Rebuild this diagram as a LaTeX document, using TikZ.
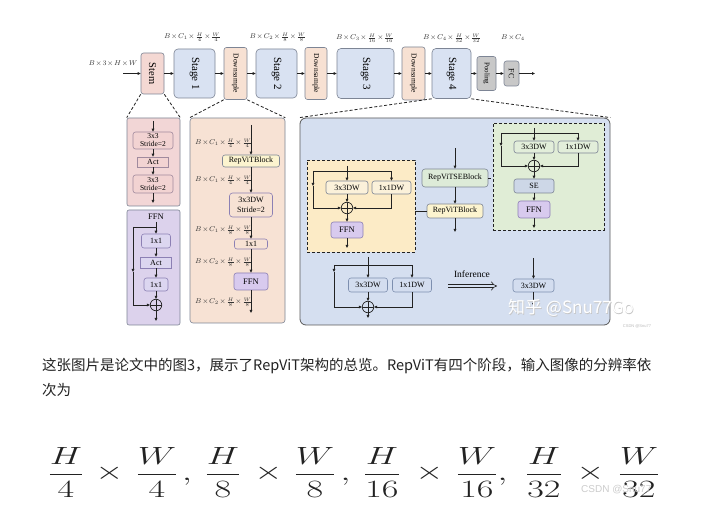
\documentclass[tikz,border=0pt]{standalone}
\usepackage{fontspec}
\usepackage{graphicx}
\setmainfont{Liberation Serif}
\newfontfamily\cjk{Noto Sans CJK SC}
\newfontfamily\sansf{Liberation Sans}
\usetikzlibrary{arrows.meta,calc}
\definecolor{stemc}{HTML}{F4D8D3}
\definecolor{stagec}{HTML}{D9E2F2}
\definecolor{dsc}{HTML}{F7E1D3}
\definecolor{poolc}{HTML}{C8C8C8}
\definecolor{bordc}{HTML}{7D8595}
\definecolor{pinkbg}{HTML}{F2D6D6}
\definecolor{pinkin}{HTML}{F2D3D2}
\definecolor{pinkbd}{HTML}{A08A9E}
\definecolor{lavbg}{HTML}{DCD2EC}
\definecolor{lavin}{HTML}{DCD6F0}
\definecolor{lavbd}{HTML}{8C80B4}
\definecolor{peachbg}{HTML}{F7E2D4}
\definecolor{bluebg}{HTML}{D5DFF0}
\definecolor{yelbg}{HTML}{FCEBC6}
\definecolor{yelin}{HTML}{FBF1DA}
\definecolor{grnbg}{HTML}{E0EDD6}
\definecolor{grnin}{HTML}{E2EEDA}
\definecolor{ffnc}{HTML}{D8CAEE}
\definecolor{rvbc}{HTML}{FCF4CF}
\definecolor{rvsec}{HTML}{DDEBD8}
\definecolor{sec}{HTML}{CDD7E7}
\definecolor{bluin}{HTML}{D3DDEF}
\definecolor{blubd}{HTML}{7D8FAF}
\definecolor{linec}{HTML}{222222}
\newcommand{\wfr}[1]{\scalebox{1.45}[1]{$\displaystyle #1$}}
\newcommand{\tx}{\mskip1.5mu{\times}\mskip1.5mu}
\begin{document}
\begin{tikzpicture}[x=1pt,y=-1pt,
  blk/.style={draw=bordc, line width=0.6pt, rounded corners=2.5pt, inner sep=0pt, align=center, font=\fontsize{8}{8.5}\selectfont},
  arr/.style={-{Triangle[length=3pt,width=2.6pt]}, line width=0.7pt, draw=linec},
  ln/.style={line width=0.7pt, draw=linec},
  dsh/.style={dashed, line width=0.8pt, dash pattern=on 3pt off 2pt, draw=linec},
  lbl/.style={font=\fontsize{7}{8}\selectfont, inner sep=0pt, text=black!80},
  opl/.style={circle, draw=linec, line width=0.7pt, minimum size=11.5pt, inner sep=0pt,
    path picture={\draw[line width=0.6pt,linec] (path picture bounding box.north) -- (path picture bounding box.south) (path picture bounding box.west) -- (path picture bounding box.east);}},
  fr/.style={font=\fontsize{24.88}{30}\selectfont, inner sep=0pt, text=linec}
]
\useasboundingbox (0,0) rectangle (701,510);
\fill[white] (0,0) rectangle (701,510);

% ---------- top row ----------
\coordinate (inp) at (123,73.5);
\node[blk, fill=stemc, minimum width=23pt, minimum height=41pt, font=\fontsize{10.5}{11}\selectfont] (stem) at (152.5,73.5) {\rotatebox{-90}{Stem}};
\node[blk, fill=stagec, minimum width=41pt, minimum height=49pt, rounded corners=4pt, font=\fontsize{11}{12}\selectfont] (st1) at (194.5,73.5) {\rotatebox{-90}{Stage 1}};
\node[blk, fill=dsc, minimum width=23pt, minimum height=52pt, font=\fontsize{7.5}{8}\selectfont] (ds1) at (235.5,73.5) {\rotatebox{-90}{Downsample}};
\node[blk, fill=stagec, minimum width=41pt, minimum height=49pt, rounded corners=4pt, font=\fontsize{11}{12}\selectfont] (st2) at (276.5,73.5) {\rotatebox{-90}{Stage 2}};
\node[blk, fill=dsc, minimum width=22pt, minimum height=52pt, font=\fontsize{7.5}{8}\selectfont] (ds2) at (316,73.5) {\rotatebox{-90}{Downsample}};
\node[blk, fill=stagec, minimum width=57pt, minimum height=50pt, rounded corners=4pt, font=\fontsize{11}{12}\selectfont] (st3) at (365.5,73.5) {\rotatebox{-90}{Stage 3}};
\node[blk, fill=dsc, minimum width=23pt, minimum height=53pt, font=\fontsize{7.5}{8}\selectfont] (ds3) at (413.5,73.5) {\rotatebox{-90}{Downsample}};
\node[blk, fill=stagec, minimum width=39pt, minimum height=50pt, rounded corners=4pt, font=\fontsize{11}{12}\selectfont] (st4) at (451.5,73.5) {\rotatebox{-90}{Stage 4}};
\node[blk, fill=poolc, minimum width=19pt, minimum height=34pt, font=\fontsize{7}{8}\selectfont] (pool) at (486.5,73.5) {\rotatebox{-90}{Pooling}};
\node[blk, fill=poolc, minimum width=15pt, minimum height=25pt, font=\fontsize{8}{8}\selectfont] (fc) at (511.5,73.5) {\rotatebox{-90}{FC}};
\coordinate (outp) at (535,73.5);
\draw[arr] (inp) -- (stem);
\draw[arr] (stem) -- (st1);
\draw[arr] (st1) -- (ds1);
\draw[arr] (ds1) -- (st2);
\draw[arr] (st2) -- (ds2);
\draw[arr] (ds2) -- (st3);
\draw[arr] (st3) -- (ds3);
\draw[arr] (ds3) -- (st4);
\draw[arr] (st4) -- (pool);
\draw[arr] (pool) -- (fc);
\draw[arr] (fc) -- (outp);

\node[lbl] (lin) at (113,64) {$B\tx3\tx H\tx W$};
\node[lbl] (l1) at (192.5,37) {$B\tx C_1\tx\frac{H}{4}\tx\frac{W}{4}$};
\node[lbl] (l2) at (278,37) {$B\tx C_2\tx\frac{H}{8}\tx\frac{W}{8}$};
\node[lbl] (l3) at (365,38) {$B\tx C_3\tx\frac{H}{16}\tx\frac{W}{16}$};
\node[lbl] (l4) at (452,38) {$B\tx C_4\tx\frac{H}{32}\tx\frac{W}{32}$};
\node[lbl] (l5) at (513,38) {$B\tx C_4$};

% ---------- stem detail ----------
\node[draw=bordc, line width=0.6pt, fill=pinkbg, rounded corners=2pt, minimum width=53pt, minimum height=88pt, inner sep=0pt] (sdet) at (153.5,162) {};
\draw[dsh] (stem.south west) -- (sdet.north west);
\draw[dsh] (stem.south east) -- (sdet.north east);
\coordinate (sin) at (153,121);
\node[blk, fill=pinkin, draw=pinkbd, minimum width=40pt, minimum height=17pt, font=\fontsize{7.5}{8}\selectfont] (s1) at (153,140.5) {3x3\\Stride=2};
\node[blk, fill=pinkin, draw=pinkbd, rounded corners=0pt, minimum width=31pt, minimum height=10pt] (sact) at (153,162) {Act};
\node[blk, fill=pinkin, draw=pinkbd, minimum width=40pt, minimum height=18pt, font=\fontsize{7.5}{8}\selectfont] (s2) at (153,184) {3x3\\Stride=2};
\coordinate (sout) at (153,203);
\draw[arr] (sin) -- (s1);
\draw[arr] (s1) -- (sact);
\draw[arr] (sact) -- (s2);
\draw[arr] (s2) -- (sout);

% ---------- FFN detail ----------
\node[draw=bordc, line width=0.6pt, fill=lavbg, rounded corners=2pt, minimum width=53pt, minimum height=115pt, inner sep=0pt] (fdet) at (153.5,267.5) {};
\node[font=\fontsize{8.5}{9}\selectfont, inner sep=0pt] (ffnt) at (156,216.5) {FFN};
\coordinate (fin) at (156,222);
\coordinate (fbr) at (156,227);
\coordinate (fl1) at (133,227);
\coordinate (fl2) at (133,272);
\node[blk, fill=lavin, draw=lavbd, minimum width=29pt, minimum height=14pt] (f1) at (156,241) {1x1};
\node[blk, fill=lavin, draw=lavbd, rounded corners=0pt, minimum width=31pt, minimum height=11pt] (fact) at (156,262.5) {Act};
\node[blk, fill=lavin, draw=lavbd, minimum width=24pt, minimum height=13pt] (f2) at (156,284.5) {1x1};
\node[opl] (fc1) at (156,305) {};
\coordinate (fout) at (156,321);
\draw[arr] (fin) -- (f1);
\draw[ln] (fbr) -- (fl1);
\draw[arr] (fl1) -- (fl2);
\draw[arr] (fl2) |- (fc1);
\draw[arr] (f1) -- (fact);
\draw[arr] (fact) -- (f2);
\draw[arr] (f2) -- (fc1);
\draw[arr] (fc1) -- (fout);

% ---------- stage detail ----------
\node[draw=bordc, line width=0.6pt, fill=peachbg, rounded corners=3pt, minimum width=95pt, minimum height=205pt, inner sep=0pt] (gdet) at (237.5,220.5) {};
\draw[dsh] (ds1.south west) -- (gdet.north west);
\draw[dsh] (ds1.south east) -- (gdet.north east);
\coordinate (gin) at (251,125);
\node[blk, fill=rvbc, minimum width=57pt, minimum height=12pt] (grb) at (251,161) {RepViTBlock};
\node[blk, fill=peachbg, draw=lavbd, minimum width=43pt, minimum height=24pt, rounded corners=3pt] (gdw) at (251,205) {3x3DW\\[1pt]Stride=2};
\node[blk, fill=peachbg, draw=lavbd, minimum width=33pt, minimum height=10pt] (g11) at (251,244) {1x1};
\node[blk, fill=ffnc, draw=lavbd, minimum width=34pt, minimum height=17pt, font=\fontsize{8.5}{9}\selectfont] (gffn) at (251,281.5) {FFN};
\coordinate (gout) at (251,313);
\draw[arr] (gin) -- (grb);
\draw[arr] (grb) -- (gdw);
\draw[arr] (gdw) -- (g11);
\draw[arr] (g11) -- (gffn);
\draw[arr] (gffn) -- (gout);
\node[lbl, anchor=west] (ga) at (195,143) {$B\tx C_1\tx\frac{H}{4}\tx\frac{W}{4}$};
\node[lbl, anchor=west] (gb) at (195,180) {$B\tx C_1\tx\frac{H}{4}\tx\frac{W}{4}$};
\node[lbl, anchor=west] (gc) at (195,230) {$B\tx C_1\tx\frac{H}{8}\tx\frac{W}{8}$};
\node[lbl, anchor=west] (gd) at (195,262) {$B\tx C_2\tx\frac{H}{8}\tx\frac{W}{8}$};
\node[lbl, anchor=west] (ge) at (195,302) {$B\tx C_2\tx\frac{H}{8}\tx\frac{W}{8}$};

% ---------- stage 4 detail ----------
\node[draw=gray!70!black, line width=0.8pt, fill=bluebg, rounded corners=6pt, minimum width=310pt, minimum height=207pt, inner sep=0pt] (bdet) at (455,221.5) {};
\draw[dsh] (st4.south west) -- (bdet.north west);
\draw[dsh] (st4.south east) -- (bdet.north east);

% yellow block
\node[dsh, fill=yelbg, minimum width=108pt, minimum height=92pt, inner sep=0pt] (yb) at (361,206) {};
\coordinate (yin) at (347,166);
\coordinate (ybr) at (347,171);
\coordinate (yl1) at (313,171);
\coordinate (yl2) at (313,186);
\node[blk, fill=yelin, minimum width=42pt, minimum height=13pt] (y3) at (347,187.5) {3x3DW};
\node[blk, fill=yelin, minimum width=39pt, minimum height=13pt] (y1) at (391.5,187.5) {1x1DW};
\node[opl] (yc) at (347,208) {};
\node[blk, fill=ffnc, draw=lavbd, minimum width=32pt, minimum height=16pt, font=\fontsize{8.5}{9}\selectfont] (yffn) at (347,230) {FFN};
\coordinate (yout) at (347,248);
\draw[arr] (yin) -- (y3);
\draw[arr] (ybr) -| (y1);
\draw[ln] (ybr) -- (yl1);
\draw[arr] (yl1) -- (yl2);
\draw[arr] (yl2) |- (yc);
\draw[arr] (y1) |- (yc);
\draw[arr] (y3) -- (yc);
\draw[arr] (yc) -- (yffn);
\draw[arr] (yffn) -- (yout);

% middle
\coordinate (min) at (455,148);
\node[blk, fill=rvsec, minimum width=66pt, minimum height=18pt, rounded corners=3pt] (rvse) at (455,178) {RepViTSEBlock};
\node[blk, fill=rvbc, minimum width=56pt, minimum height=14pt] (rvb) at (455,211) {RepViTBlock};
\coordinate (mout) at (455,232);
\draw[arr] (min) -- (rvse);
\draw[arr] (rvse) -- (rvb);
\draw[arr] (rvb) -- (mout);
\draw[ln, line width=0.5pt] (rvb.west) -- (yb.east |- rvb.west);

% green block
\node[dsh, fill=grnbg, minimum width=111pt, minimum height=107pt, inner sep=0pt] (gbk) at (548.5,177) {};
\draw[dsh, line width=0.6pt] (rvse.east) -- (gbk.west |- rvse.east);
\coordinate (qin) at (534,128);
\coordinate (qbr) at (534,133);
\coordinate (ql1) at (501,133);
\coordinate (ql2) at (501,146);
\node[blk, fill=grnin, minimum width=40pt, minimum height=12pt] (q3) at (534,147) {3x3DW};
\node[blk, fill=grnin, minimum width=40pt, minimum height=12pt] (q1) at (578,147) {1x1DW};
\node[opl] (qc) at (534,166) {};
\node[blk, fill=sec, minimum width=40pt, minimum height=14pt] (qse) at (534,186) {SE};
\node[blk, fill=ffnc, draw=lavbd, minimum width=32pt, minimum height=17pt, font=\fontsize{8.5}{9}\selectfont] (qffn) at (534,209.5) {FFN};
\coordinate (qout) at (534,228);
\draw[arr] (qin) -- (q3);
\draw[arr] (qbr) -| (q1);
\draw[ln] (qbr) -- (ql1);
\draw[arr] (ql1) -- (ql2);
\draw[arr] (ql2) |- (qc);
\draw[arr] (q1) |- (qc);
\draw[arr] (q3) -- (qc);
\draw[arr] (qc) -- (qse);
\draw[arr] (qse) -- (qffn);
\draw[arr] (qffn) -- (qout);

% bottom-left
\coordinate (bin) at (368,257);
\coordinate (bbr) at (368,265);
\coordinate (bl1) at (334,265);
\coordinate (bl2) at (334,272);
\node[blk, fill=bluin, draw=blubd, minimum width=39pt, minimum height=14pt] (b3) at (368,285) {3x3DW};
\node[blk, fill=bluin, draw=blubd, minimum width=39pt, minimum height=14pt] (b1) at (412,285) {1x1DW};
\node[opl] (bc) at (368,307) {};
\coordinate (bout) at (368,318);
\draw[arr] (bin) -- (b3);
\draw[arr] (bbr) -| (b1);
\draw[ln] (bbr) -- (bl1);
\draw[arr] (bl1) -- (bl2);
\draw[arr] (bl2) |- (bc);
\draw[arr] (b1) |- (bc);
\draw[arr] (b3) -- (bc);
\draw[arr] (bc) -- (bout);

% inference
\coordinate (ia) at (448,286);
\coordinate (ib) at (497,286);
\draw[double=bluebg, double distance=2.6pt, line width=0.6pt, draw=linec, -{Implies[length=4pt]}] (ia) -- (ib);
\node[font=\fontsize{9.5}{10}\selectfont, inner sep=0pt] (inf) at (472,274) {Inference};
\coordinate (rin) at (533.5,258);
\node[blk, fill=bluin, draw=blubd, minimum width=41pt, minimum height=13pt] (r3) at (533.5,285.5) {3x3DW};
\coordinate (rout) at (533.5,306);
\draw[arr] (rin) -- (r3);
\draw[arr] (r3) -- (rout);

% watermarks
\node[font=\cjk\fontsize{17}{17}\selectfont, text=gray!45, anchor=west, inner sep=0pt] (wms) at (508.7,308.7) {知乎 @Snu77Go};
\node[font=\cjk\fontsize{17}{17}\selectfont, text=white, anchor=west, inner sep=0pt] (wm) at (508,308) {知乎 @Snu77Go};
\node[font=\sansf\fontsize{4}{4}\selectfont, text=gray!55, inner sep=0pt] (wm2) at (637,326) {CSDN @Snu77};

% ---------- text ----------
\node[anchor=west, inner sep=0pt, text=linec, font=\cjk\fontsize{14.5}{16}\selectfont] (p1) at (42,366) {这张图片是论文中的图3，展示了RepViT架构的总览。RepViT有四个阶段，输入图像的分辨率依};
\node[anchor=west, inner sep=0pt, text=linec, font=\cjk\fontsize{14.5}{16}\selectfont] (p2) at (42,390) {次为};

% ---------- formula ----------
\node[fr] (e1) at (66,472.5) {\wfr{\frac{H}{4}}};
\node[fr] (e2) at (109.5,473) {\wfr{\times}};
\node[fr] (e3) at (157,472.5) {\wfr{\frac{W}{4}}};
\node[fr] (e4) at (187,482) {\wfr{,}};
\node[fr] (e5) at (223,472.5) {\wfr{\frac{H}{8}}};
\node[fr] (e6) at (268.5,473) {\wfr{\times}};
\node[fr] (e7) at (315,472.5) {\wfr{\frac{W}{8}}};
\node[fr] (e8) at (345.5,482) {\wfr{,}};
\node[fr] (e9) at (382,472.5) {\wfr{\frac{H}{16}}};
\node[fr] (e10) at (429.5,473) {\wfr{\times}};
\node[fr] (e11) at (477,472.5) {\wfr{\frac{W}{16}}};
\node[fr] (e12) at (502.5,482) {\wfr{,}};
\node[fr] (e13) at (544,472.5) {\wfr{\frac{H}{32}}};
\node[fr] (e14) at (590.5,473) {\wfr{\times}};
\node[fr] (e15) at (639,472.5) {\wfr{\frac{W}{32}}};
\node[font=\sansf\fontsize{10}{10}\selectfont, text=gray!40, anchor=west, inner sep=0pt] (wm3) at (581,490) {CSDN @Snu77};
\end{tikzpicture}
\end{document}
